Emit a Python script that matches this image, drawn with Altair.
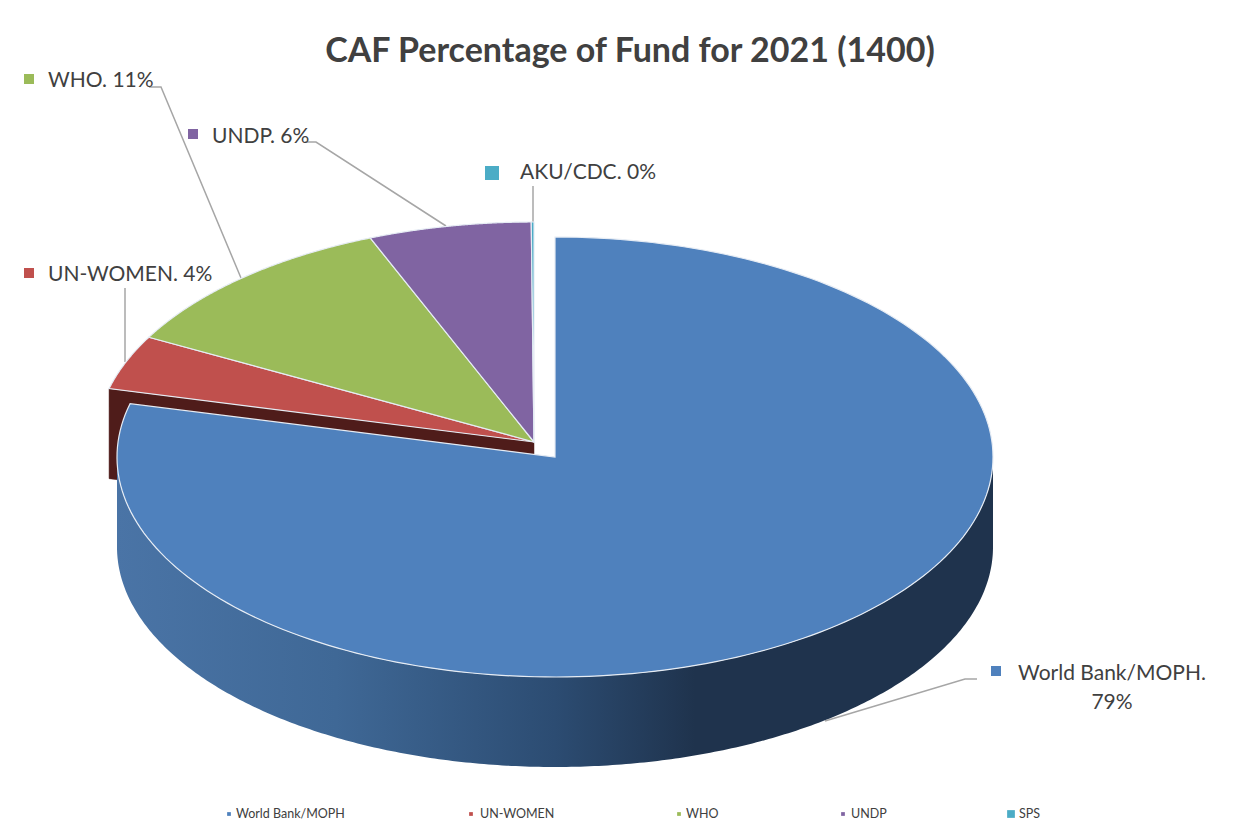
import numpy as np
import altair as alt

# ---- data ----
names = ["World Bank/MOPH", "UN-WOMEN", "WHO", "UNDP", "AKU/CDC"]
shares = [78.9, 4.0, 11.0, 6.0, 0.1]
colors = ["#4f81bd", "#c0504d", "#9bbb59", "#8064a2", "#4bacc6"]
label_pct = ["79%", "4%", "11%", "6%", "0%"]
legend_names = ["World Bank/MOPH", "UN-WOMEN", "WHO", "UNDP", "SPS"]
title_text = "CAF Percentage of Fund for 2021 (1400)"

# ---- layout (image pixels) ----
W, H = 1235, 821
RX, RY, DEPTH = 438, 220, 90
C_MAIN = (555, 457)
C_REST = (534, 442)
FONT = "Lato"
INK = "#404040"
LEADER = "#a6a6a6"
TITLE_SIZE = 34
LABEL_SIZE = 21
LEGEND_SIZE = 12.5

x_scale = alt.Scale(domain=[8, 8 + W], nice=False, zero=False)
y_scale = alt.Scale(domain=[8 + H, 8], nice=False, zero=False)
PROJ = dict(type="identity", scale=1, translate=[-8, -8])


def ell(c, deg):
    a = np.radians(deg)
    return [float(c[0] + RX * np.sin(a)), float(c[1] - RY * np.cos(a))]


def poly(points, **props):
    pts = list(points) + [points[0]]
    return {"type": "Feature", "properties": props,
            "geometry": {"type": "Polygon", "coordinates": [pts]}}


# angles follow from the shares
edges = np.concatenate([[0], np.cumsum(shares)]) / sum(shares) * 360

wedges = []
for i, n in enumerate(names):
    c = C_MAIN if i == 0 else C_REST
    arc = [ell(c, d) for d in np.linspace(edges[i], edges[i + 1], 200)]
    wedges.append(poly([list(c)] + arc, name=n))

# cut face of the red slice, behind the big slice
p0 = ell(C_REST, edges[1])
face = poly([p0, list(C_REST),
             [C_REST[0], C_REST[1] + DEPTH], [p0[0], p0[1] + DEPTH]], name="face")

# outer wall of the big slice
rim = [ell(C_MAIN, d) for d in np.linspace(90, 270, 300)]
wall = poly(rim + [[x, y + DEPTH] for x, y in reversed(rim)], name="wall")

face_layer = alt.Chart(alt.Data(values=[face])).mark_geoshape(
    fill="#4f1c1a", stroke="#4f1c1a", strokeWidth=0.5).project(**PROJ)

wall_fill = {
    "gradient": "linear", "x1": 0, "x2": 1, "y1": 0, "y2": 0,
    "stops": [
        {"offset": 0.0, "color": "#4a74a6"},
        {"offset": 0.25, "color": "#3f6896"},
        {"offset": 0.5, "color": "#2c4c72"},
        {"offset": 0.66, "color": "#1f334d"},
        {"offset": 1.0, "color": "#1f334d"},
    ],
}
wall_layer = alt.Chart(alt.Data(values=[wall])).mark_geoshape(
    fill=wall_fill, strokeWidth=0).project(**PROJ)


def top_layer(feats):
    return alt.Chart(alt.Data(values=feats)).mark_geoshape(
        stroke="#e6ecf4", strokeWidth=1.2
    ).encode(
        fill=alt.Fill("properties.name:N",
                      scale=alt.Scale(domain=names, range=colors), legend=None)
    ).project(**PROJ)


rest_layer = top_layer(wedges[1:])
main_layer = top_layer(wedges[:1])

# leader lines
leaders = [
    {"id": "who", "k": 0, "x": 149, "y": 87}, {"id": "who", "k": 1, "x": 161, "y": 87},
    {"id": "who", "k": 2, "x": 241, "y": 278},
    {"id": "undp", "k": 0, "x": 305, "y": 142}, {"id": "undp", "k": 1, "x": 316, "y": 142},
    {"id": "undp", "k": 2, "x": 446, "y": 226},
    {"id": "aku", "k": 0, "x": 533, "y": 186}, {"id": "aku", "k": 1, "x": 533, "y": 224},
    {"id": "unw", "k": 0, "x": 125, "y": 288}, {"id": "unw", "k": 1, "x": 125, "y": 362},
    {"id": "wb", "k": 0, "x": 977, "y": 679}, {"id": "wb", "k": 1, "x": 965, "y": 679},
    {"id": "wb", "k": 2, "x": 825, "y": 721},
]
leader_layer = alt.Chart(alt.Data(values=leaders)).mark_line(
    color=LEADER, strokeWidth=1.5
).encode(
    x=alt.X("x:Q", scale=x_scale, axis=None),
    y=alt.Y("y:Q", scale=y_scale, axis=None),
    detail="id:N",
    order="k:Q",
)

XY = dict(x=alt.X("x:Q", scale=x_scale, axis=None),
          y=alt.Y("y:Q", scale=y_scale, axis=None))

# data label markers and texts
label_marks = [
    {"x": 996, "y": 671, "c": colors[0], "s": 100},
    {"x": 29, "y": 273, "c": colors[1], "s": 100},
    {"x": 29, "y": 79, "c": colors[2], "s": 100},
    {"x": 193, "y": 134, "c": colors[3], "s": 100},
    {"x": 492, "y": 173, "c": colors[4], "s": 196},
]
legend_pos = [229, 471, 679, 843, 1011]
legend_sizes = [14, 14, 14, 14, 60]
legend_marks = [
    {"x": x, "y": 814, "c": c, "s": s}
    for x, c, s in zip(legend_pos, colors, legend_sizes)
]
square_layer = alt.Chart(alt.Data(values=label_marks + legend_marks)).mark_square(
    opacity=1, strokeWidth=0
).encode(
    **XY,
    color=alt.Color("c:N", scale=None),
    size=alt.Size("s:Q", scale=None),
)

left_labels = [
    {"x": 48, "y": 81, "t": f"{names[2]}. {label_pct[2]}"},
    {"x": 48, "y": 275, "t": f"{names[1]}. {label_pct[1]}"},
    {"x": 212, "y": 137, "t": f"{names[3]}. {label_pct[3]}"},
    {"x": 520, "y": 173, "t": f"{names[4]}. {label_pct[4]}"},
]
left_text = alt.Chart(alt.Data(values=left_labels)).mark_text(
    align="left", baseline="middle", font=FONT, fontSize=LABEL_SIZE, color=INK
).encode(**XY, text="t:N")

center_labels = [
    {"x": 1112, "y": 674, "t": f"{names[0]}."},
    {"x": 1112, "y": 703, "t": label_pct[0]},
]
center_text = alt.Chart(alt.Data(values=center_labels)).mark_text(
    align="center", baseline="middle", font=FONT, fontSize=LABEL_SIZE, color=INK
).encode(**XY, text="t:N")

legend_text_x = [236, 480, 686, 851, 1019]
legend_text = alt.Chart(alt.Data(values=[
    {"x": x, "y": 814, "t": t} for x, t in zip(legend_text_x, legend_names)
])).mark_text(
    align="left", baseline="middle", font=FONT, fontSize=LEGEND_SIZE, color=INK
).encode(**XY, text="t:N")

title_layer = alt.Chart(alt.Data(values=[{"x": 630, "y": 52, "t": title_text}])).mark_text(
    align="center", baseline="middle", font=FONT, fontSize=TITLE_SIZE,
    fontWeight="bold", color=INK
).encode(**XY, text="t:N")

chart = alt.layer(
    leader_layer, face_layer, rest_layer, wall_layer, main_layer,
    square_layer, left_text, center_text, legend_text, title_layer,
).resolve_scale(fill="independent").properties(
    width=W, height=H, padding=0, background="white",
    autosize=alt.AutoSizeParams(type="none"),
).configure_view(stroke=None)

chart.save("out.html", embed_options={"renderer": "svg", "actions": False})
